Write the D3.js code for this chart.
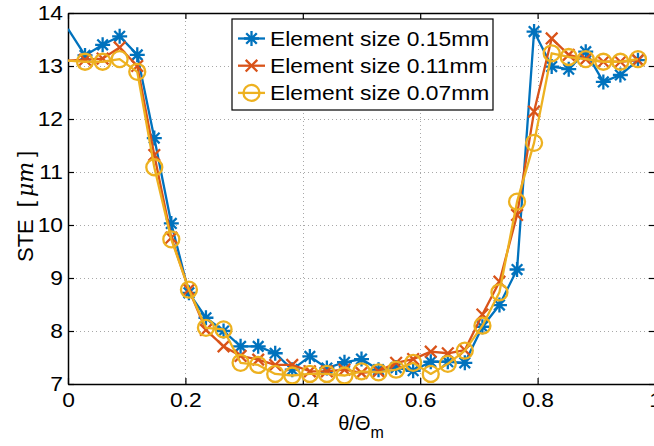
<!DOCTYPE html>
<html>
<head>
<meta charset="utf-8">
<script src="https://cdn.jsdelivr.net/npm/d3@7"></script>
<style>
  html, body { margin: 0; padding: 0; background: #fff; }
  svg { display: block; font-family: "Liberation Sans", Arial, sans-serif; }
</style>
</head>
<body>
<div id="chart"></div>
<script>
// theta / Theta_m sample positions
const thetaRatio = [0, 0.029, 0.059, 0.088, 0.118, 0.147, 0.176, 0.206, 0.235, 0.265,
  0.294, 0.324, 0.353, 0.382, 0.412, 0.441, 0.471, 0.5, 0.529, 0.559,
  0.588, 0.618, 0.647, 0.676, 0.706, 0.735, 0.765, 0.794, 0.824, 0.853,
  0.882, 0.912, 0.941, 0.971];

// STE [um] per element size
const ste015 = [13.7, 13.2, 13.4, 13.56, 13.21, 11.64, 10.03, 8.72, 8.25, 8.0,
  7.71, 7.71, 7.58, 7.27, 7.52, 7.3, 7.41, 7.47, 7.27, 7.31,
  7.25, 7.42, 7.42, 7.4, 8.08, 8.49, 9.16, 13.65, 12.99, 12.94,
  13.27, 12.7, 12.83, 13.11];
const ste011 = [13.1, 13.12, 13.14, 13.35, 13.0, 11.32, 9.76, 8.78, 8.02, 7.71,
  7.53, 7.46, 7.36, 7.36, 7.24, 7.24, 7.27, 7.21, 7.24, 7.4,
  7.47, 7.61, 7.58, 7.64, 8.31, 8.93, 10.19, 12.14, 13.52, 13.21,
  13.13, 13.08, 13.08, 13.11];
const ste007 = [13.1, 13.08, 13.08, 13.13, 12.89, 11.09, 9.73, 8.78, 8.06, 8.03,
  7.4, 7.36, 7.19, 7.16, 7.19, 7.19, 7.16, 7.24, 7.22, 7.27,
  7.4, 7.19, 7.38, 7.63, 8.1, 8.73, 10.44, 11.55, 13.24, 13.17,
  13.13, 13.08, 13.08, 13.13];

const seriesNames = ["Element size 0.15mm", "Element size 0.11mm", "Element size 0.07mm"];
const seriesColors = ["#0072BD", "#D95319", "#EDB120"];
const seriesMarkers = ["star", "cross", "circle"];
const xTicks = [0, 0.2, 0.4, 0.6, 0.8, 1];
const yTicks = [7, 8, 9, 10, 11, 12, 13, 14];

const width = 654, height = 446;
const margin = { left: 68, top: 13, right: -1, bottom: 62 };
const plotW = width - margin.left - margin.right;
const plotH = height - margin.top - margin.bottom;
const stretch = 1.14; // the figure's text is a little wider than plain Arial

const svg = d3.select("#chart").append("svg")
  .attr("width", width)
  .attr("height", height);

const x = d3.scaleLinear().domain([0, 1]).range([margin.left, margin.left + plotW]);
const y = d3.scaleLinear().domain([7, 14]).range([margin.top + plotH, margin.top]);

svg.append("defs").append("clipPath").attr("id", "plotClip")
  .append("rect")
  .attr("x", margin.left).attr("y", margin.top)
  .attr("width", plotW).attr("height", plotH);

// dotted grid
const grid = svg.append("g").attr("stroke", "#a8a8a8").attr("stroke-width", 1)
  .attr("stroke-dasharray", "1,3");
grid.selectAll("line.gx").data(xTicks.slice(1, -1)).join("line")
  .attr("x1", (d) => Math.round(x(d)) + 0.5).attr("x2", (d) => Math.round(x(d)) + 0.5)
  .attr("y1", margin.top).attr("y2", margin.top + plotH);
grid.selectAll("line.gy").data(yTicks.slice(1, -1)).join("line")
  .attr("y1", (d) => Math.round(y(d)) + 0.5).attr("y2", (d) => Math.round(y(d)) + 0.5)
  .attr("x1", margin.left).attr("x2", margin.left + plotW);

// axes with inward ticks
const tickLen = 6;
const bottomAxis = d3.axisBottom(x).tickValues(xTicks).tickSizeInner(-tickLen).tickSizeOuter(0)
  .tickPadding(9).tickFormat(d3.format("~g"));
const leftAxis = d3.axisLeft(y).tickValues(yTicks).tickSizeInner(-tickLen).tickSizeOuter(0)
  .tickPadding(5).tickFormat(d3.format("d"));
const topAxis = d3.axisTop(x).tickValues(xTicks).tickSizeInner(-tickLen).tickSizeOuter(0).tickFormat("");
const rightAxis = d3.axisRight(y).tickValues(yTicks).tickSizeInner(-tickLen).tickSizeOuter(0).tickFormat("");

function styleAxis(g) {
  g.select(".domain").attr("stroke", "#000").attr("stroke-width", 1.5);
  g.selectAll(".tick line").attr("stroke", "#000").attr("stroke-width", 1.2);
  g.selectAll(".tick text").attr("fill", "#000").attr("font-size", 20)
    .attr("font-family", "Liberation Sans, Arial, sans-serif");
}

svg.append("g").attr("transform", `translate(0,${margin.top + plotH})`).call(bottomAxis).call(styleAxis);
svg.append("g").attr("transform", `translate(${margin.left},0)`).call(leftAxis).call(styleAxis);
svg.append("g").attr("transform", `translate(0,${margin.top})`).call(topAxis).call(styleAxis);
svg.append("g").attr("transform", `translate(${margin.left + plotW},0)`).call(rightAxis).call(styleAxis);

// marker shapes
function markerPath(kind) {
  if (kind === "star") {
    const r = 7.5, d = 5.3;
    return `M${-r},0L${r},0M0,${-r}L0,${r}M${-d},${-d}L${d},${d}M${-d},${d}L${d},${-d}`;
  }
  if (kind === "cross") {
    const d = 5.8;
    return `M${-d},${-d}L${d},${d}M${-d},${d}L${d},${-d}`;
  }
  const r = 8;
  return `M${r},0A${r},${r} 0 1,1 ${-r},0A${r},${r} 0 1,1 ${r},0Z`;
}

const allSeries = [ste015, ste011, ste007];
const line = d3.line().x((d) => x(d[0])).y((d) => y(d[1]));
const plot = svg.append("g").attr("clip-path", "url(#plotClip)");

allSeries.forEach((values, s) => {
  const pts = thetaRatio.map((t, i) => [t, values[i]]);
  const g = plot.append("g");
  g.append("path")
    .datum(pts)
    .attr("fill", "none")
    .attr("stroke", seriesColors[s])
    .attr("stroke-width", 2.3)
    .attr("stroke-linejoin", "round")
    .attr("d", line);
  g.selectAll("path.mk")
    .data(pts.slice(1))
    .join("path")
    .attr("class", "mk")
    .attr("transform", (d) => `translate(${x(d[0])},${y(d[1])})`)
    .attr("d", markerPath(seriesMarkers[s]))
    .attr("fill", "none")
    .attr("stroke", seriesColors[s])
    .attr("stroke-width", 2.3);
});

// legend
const legend = svg.append("g").attr("transform", "translate(232,19)");
legend.append("rect")
  .attr("width", 261).attr("height", 91)
  .attr("fill", "#fff").attr("stroke", "#000").attr("stroke-width", 1.2);
seriesNames.forEach((name, s) => {
  const cy = 19.5 + s * 27.2;
  const row = legend.append("g").attr("transform", `translate(0,${cy})`);
  row.append("line").attr("x1", 6).attr("x2", 33).attr("y1", 0).attr("y2", 0)
    .attr("stroke", seriesColors[s]).attr("stroke-width", 2.3);
  row.append("path").attr("transform", "translate(19.5,0)")
    .attr("d", markerPath(seriesMarkers[s]))
    .attr("fill", "none").attr("stroke", seriesColors[s]).attr("stroke-width", 2.3);
  row.append("text").attr("class", "wide").attr("x", 38).attr("y", 7.5)
    .attr("font-size", 20).attr("fill", "#000").text(name);
});

// axis labels
const xl = svg.append("text")
  .attr("x", 361).attr("y", 430)
  .attr("text-anchor", "middle")
  .attr("font-size", 20).attr("fill", "#000");
xl.append("tspan").text("\u03B8/\u0398");
xl.append("tspan").attr("font-size", 16).attr("dy", 8).text("m");

const yl = svg.append("text")
  .attr("transform", "translate(33,262) rotate(-90)")
  .attr("text-anchor", "start")
  .attr("font-size", 22).attr("fill", "#000");
yl.append("tspan").text("STE");
yl.append("tspan").attr("dx", 12).text("[");
yl.append("tspan").attr("dx", 4).attr("font-style", "italic")
  .attr("font-family", "DejaVu Serif, serif").text("\u03BCm");
yl.append("tspan").attr("dx", 5).text("]");

// widen the horizontal texts a little, as in the source figure
svg.selectAll(".tick text, text.wide").each(function () {
  const w = this.getComputedTextLength();
  if (w > 0) {
    d3.select(this).attr("textLength", w * stretch).attr("lengthAdjust", "spacingAndGlyphs");
  }
});
</script>
</body>
</html>
